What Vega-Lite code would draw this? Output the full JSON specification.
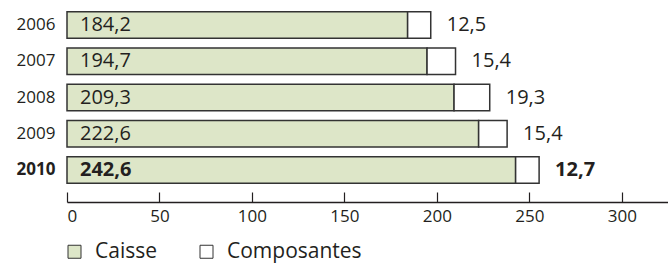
{
  "$schema": "https://vega.github.io/schema/vega-lite/v6.json",
  "width": 601,
  "height": 195,
  "autosize": "none",
  "padding": {"left": 67, "top": 0, "right": 0, "bottom": 73},
  "config": {
    "view": {"stroke": null},
    "font": "Open Sans",
    "locale": {"number": {"decimal": ",", "thousands": " ", "grouping": [3], "currency": ["", " €"]}}
  },
  "data": {
    "values": [
      {"year": "2006", "series": "Caisse", "value": 184.2},
      {"year": "2006", "series": "Composantes", "value": 12.5},
      {"year": "2007", "series": "Caisse", "value": 194.7},
      {"year": "2007", "series": "Composantes", "value": 15.4},
      {"year": "2008", "series": "Caisse", "value": 209.3},
      {"year": "2008", "series": "Composantes", "value": 19.3},
      {"year": "2009", "series": "Caisse", "value": 222.6},
      {"year": "2009", "series": "Composantes", "value": 15.4},
      {"year": "2010", "series": "Caisse", "value": 242.6},
      {"year": "2010", "series": "Composantes", "value": 12.7}
    ]
  },
  "encoding": {
    "y": {
      "field": "year",
      "type": "nominal",
      "scale": {"paddingInner": 0.27, "paddingOuter": 0.325},
      "axis": {
        "title": null,
        "domain": false,
        "ticks": false,
        "labelFontSize": 17,
        "labelColor": "#231f20",
        "labelPadding": 12,
        "labelFontWeight": {"condition": {"test": "datum.value == '2010'", "value": "bold"}, "value": "normal"}
      }
    }
  },
  "layer": [
    {
      "mark": {"type": "bar", "stroke": "#333333", "strokeWidth": 1.5},
      "encoding": {
        "x": {
          "field": "value",
          "type": "quantitative",
          "stack": "zero",
          "scale": {"domain": [0, 325], "nice": false},
          "axis": {
            "title": null,
            "values": [0, 50, 100, 150, 200, 250, 300],
            "grid": false,
            "offset": 7,
            "tickSize": -10,
            "tickColor": "#231f20",
            "tickWidth": 1.2,
            "domainColor": "#231f20",
            "domainWidth": 1.5,
            "labelFontSize": 17,
            "labelColor": "#231f20",
            "labelPadding": 16,
            "format": "d"
          }
        },
        "color": {
          "field": "series",
          "type": "nominal",
          "scale": {"domain": ["Caisse", "Composantes"], "range": ["#dde6c8", "#ffffff"]},
          "legend": {
            "title": null,
            "orient": "none",
            "legendX": -3,
            "legendY": 241,
            "direction": "horizontal",
            "symbolType": "square",
            "symbolSize": 169,
            "symbolStrokeColor": "#333333",
            "symbolStrokeWidth": 1,
            "labelFontSize": 21,
            "labelColor": "#231f20",
            "labelOffset": 10,
            "columnPadding": 38
          }
        }
      }
    },
    {
      "transform": [{"filter": "datum.series == 'Caisse'"}],
      "mark": {"type": "text", "align": "left", "baseline": "middle", "dx": 13, "fontSize": 20, "color": "#231f20",
               "fontWeight": {"expr": "datum.year == '2010' ? 'bold' : 'normal'"}},
      "encoding": {
        "x": {"datum": 0, "type": "quantitative"},
        "text": {"field": "value", "type": "quantitative", "format": ".1f"}
      }
    },
    {
      "transform": [
        {"joinaggregate": [{"op": "sum", "field": "value", "as": "total"}], "groupby": ["year"]},
        {"filter": "datum.series == 'Composantes'"}
      ],
      "mark": {"type": "text", "align": "left", "baseline": "middle", "dx": 16, "fontSize": 20, "color": "#231f20",
               "fontWeight": {"expr": "datum.year == '2010' ? 'bold' : 'normal'"}},
      "encoding": {
        "x": {"field": "total", "type": "quantitative"},
        "text": {"field": "value", "type": "quantitative", "format": ".1f"}
      }
    }
  ]
}
